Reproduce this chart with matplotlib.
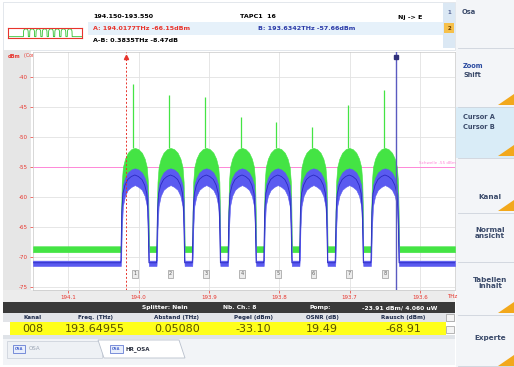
import numpy as np
import matplotlib
matplotlib.use('Agg')
import matplotlib.pyplot as plt
from matplotlib.patches import Rectangle, Polygon

# spectrum window (THz, decreasing to the right)
start_thz = 194.150
stop_thz = 193.550
cursor_a_thz = 194.0177
cursor_b_thz = 193.6342
ref_level = -55.0

# channel centres (THz) and spike height on each channel (dBm)
ch_thz = [194.0052, 193.9544, 193.9036, 193.8528, 193.8020, 193.7512, 193.7004, 193.6496]
spike_dbm = [-41.2, -43.0, -43.3, -46.7, -47.5, -48.3, -44.7, -42.2]

# half of one channel, from the gap (offset 0.0254 THz) in to the centre
hump_off = [0.0254, 0.0200, 0.0194, 0.0186, 0.0170, 0.0140, 0.0100, 0.0050, 0.0]
green_hi = [-68.2, -68.2, -62.0, -57.5, -55.0, -53.6, -52.6, -52.0, -51.8]
green_lo = [-69.2, -69.2, -67.5, -63.0, -59.5, -58.0, -57.0, -56.3, -56.0]
blue_hi = [-70.6, -70.6, -65.0, -60.5, -58.0, -56.8, -55.9, -55.4, -55.2]
blue_lo = [-71.5, -71.5, -70.0, -65.5, -61.5, -59.8, -58.8, -58.3, -58.0]

y_ticks = [-75, -70, -65, -60, -55, -50, -45, -40]
x_ticks = [194.1, 194.0, 193.9, 193.8, 193.7, 193.6]

# table row
table_cols = ['Kanal', 'Freq. (THz)', 'Abstand (THz)', 'Pegel (dBm)', 'OSNR (dB)', 'Rausch (dBm)']
table_vals = ['008', '193.64955', '0.05080', '-33.10', '19.49', '-68.91']
table_x = [33, 95, 177, 253, 322, 403]

menu_items = ['Kanal', 'Normal\nansicht', 'Tabellen\ninhalt', 'Experte']
menu_y = [197, 233, 283, 338]

W, H = 514, 367
fig = plt.figure(figsize=(W / 100, H / 100), dpi=100)
fig.patch.set_facecolor('white')

# pixel overlay for the instrument frame
ui = fig.add_axes([0, 0, 1, 1])
ui.set_xlim(0, W)
ui.set_ylim(H, 0)
ui.axis('off')

def box(x, y, w, h, fc, ec='none', lw=0.5, z=1):
    ui.add_patch(Rectangle((x, y), w, h, facecolor=fc, edgecolor=ec, lw=lw, zorder=z))

def txt(x, y, s, size=4.6, color='black', weight='bold', ha='left', **kw):
    ui.text(x, y, s, fontsize=size, color=color, fontweight=weight, ha=ha, va='center', **kw)

red = '#e8342c'
navy = '#2a3aa8'

# header
box(3, 2, 452, 48, 'white', '#d8dde4')
box(88, 22, 355, 13, '#e6f1fa')
txt(93, 17, '194.150-193.550')
txt(240, 17, 'TAPC1  16')
txt(398, 17, 'Nj -> E')
txt(93, 28, 'A: 194.0177THz -66.15dBm', color=red)
txt(258, 28, 'B: 193.6342THz -57.66dBm', color=navy)
txt(93, 40, 'A-B: 0.3835THz -8.47dB')
box(443, 3, 12, 45, '#dbe8f4')
txt(449, 12, '1', size=4, color='#5a6a9a', ha='center')
box(444, 23, 10, 10, '#f6c04a')
txt(449, 28, '2', size=4, color='#6a3a00', ha='center')

# left label strip and bottom label strip
box(3, 50, 28, 242, '#e6e6e6')
box(3, 290, 452, 12, '#ececec')
txt(8, 56, 'dBm', size=3.6, color=red)
ui.add_patch(Rectangle((6, 53), 14, 6, facecolor='#f8d8d8', edgecolor='none', zorder=0.9))
txt(24, 56, '(Cont in Power in 100MHz Bandwidth)', size=3.4, color=red, weight='normal')
txt(452, 297, 'THz', size=4, color=red, weight='normal', ha='center')

# status bar and table
box(3, 302, 452, 11, '#3a3a3a')
txt(165, 307.5, 'Splitter: Nein', size=4.3, color='white', ha='center')
txt(240, 307.5, 'Nb. Ch.: 8', size=4.3, color='white', ha='center')
txt(320, 307.5, 'Pomp:', size=4.3, color='white', ha='center')
txt(400, 307.5, '-23.91 dBm/ 4.060 uW', size=4.3, color='white', ha='center')
box(3, 313, 452, 9, '#e2e4e8')
box(10, 322, 436, 13, '#ffff1a')
box(3, 335, 452, 4, '#dfe3e8')
box(446, 314, 8, 7, '#f4f4f4', '#9a9a9a')
box(446, 326, 8, 7, '#f4f4f4', '#9a9a9a')
for name, val, x in zip(table_cols, table_vals, table_x):
    txt(x, 317.5, name, size=4.1, color='#1c2a4a', ha='center')
    txt(x, 328.5, val, size=8, color='#5a5200', weight='normal', ha='center')

# tabs
box(3, 339, 452, 26, '#f2f4f7')
box(7, 341, 95, 17, '#eef1f5', '#c8ced8')
box(13, 345, 12, 8, '#e8eefc', '#4a66cc')
txt(19, 349, 'OSA', size=2.6, color='#4a66cc', ha='center')
txt(29, 349, 'OSA', size=4, color='#9aa4b4', weight='normal')
ui.add_patch(Polygon([[98, 340], [104, 358], [185, 358], [179, 340]], closed=True,
                     facecolor='white', edgecolor='#b8c0cc', lw=0.6, zorder=1))
box(110, 345, 13, 8, '#e8eefc', '#4a66cc')
txt(116.5, 349, 'OSA', size=2.6, color='#4a66cc', ha='center')
txt(126, 349, 'HR_OSA', size=4, color='#2a3040')

# right soft-key panel
box(456, 0, 58, 367, '#f3f5f8')
box(456, 107, 58, 51, '#d9ecf7')
for yy in [48, 107, 158, 213, 262, 315, 366]:
    ui.plot([458, 514], [yy, yy], color='#cdd3dc', lw=0.6)
for yy in [105, 156, 211, 313, 366]:
    ui.add_patch(Polygon([[514, yy - 11], [514, yy], [498, yy]], closed=True,
                         facecolor='#f2a81c', edgecolor='none', zorder=2))
txt(462, 12, 'Osa', size=4.8, color='#3a4a6a')
txt(463, 66, 'Zoom', size=4.8, color='#2a4aa0')
txt(463, 75, 'Shift', size=4.8, color='#3a4a6a')
txt(463, 117, 'Cursor A', size=4.8, color='#3a4a6a')
txt(463, 127, 'Cursor B', size=4.8, color='#3a4a6a')
for s, yy in zip(menu_items, menu_y):
    txt(490, yy, s, size=5.2, color='#3a4a6a', ha='center', linespacing=1.1)

# spectrum axes
ax = fig.add_axes([33 / W, 1 - 290 / H, (455 - 33) / W, (290 - 52) / H])
ax.set_facecolor('white')
ax.set_xlim(start_thz, stop_thz)
ax.set_ylim(-75.5, -35.8)


def build(hi, lo):
    off = np.array(hump_off)
    full_off = np.concatenate([off, -off[::-1][1:]])
    hi = np.array(hi)
    lo = np.array(lo)
    hi_full = np.concatenate([hi, hi[::-1][1:]])
    lo_full = np.concatenate([lo, lo[::-1][1:]])
    xs = [start_thz]
    ys_hi = [hi[0]]
    ys_lo = [lo[0]]
    for c in ch_thz:
        xs.extend(c + full_off)
        ys_hi.extend(hi_full)
        ys_lo.extend(lo_full)
    xs.append(stop_thz)
    ys_hi.append(hi[0])
    ys_lo.append(lo[0])
    return np.array(xs), np.array(ys_hi), np.array(ys_lo)


gx, ghi, glo = build(green_hi, green_lo)
bx, bhi, blo = build(blue_hi, blue_lo)

ax.grid(True, color='#e2e2e2', lw=0.6)
ax.set_axisbelow(True)
ax.axhline(ref_level, color='#ff88d8', lw=0.7, zorder=2)
ax.text(193.575, ref_level + 0.4, 'Schwelle -55 dBm', fontsize=3, color='#ff88d8',
        ha='center', va='bottom')

ax.fill_between(gx, glo, ghi, color='#44e444', lw=0.4, zorder=3)
for c, s in zip(ch_thz, spike_dbm):
    ax.vlines(c + 0.002, green_hi[-1], s, color='#44e444', lw=0.9, zorder=3)
ax.fill_between(bx, blo, bhi, color='#5a5af0', lw=0.4, zorder=4)
ax.plot(bx, (bhi * 0.6 + blo * 0.4), color='#2a2ac0', lw=0.6, zorder=4)

ax.axvline(cursor_a_thz, color=red, lw=0.7, ls=(0, (2, 2)), zorder=5)
ax.axvline(cursor_b_thz, color='#5a5ac0', lw=1.0, zorder=5)
ax.plot([cursor_a_thz], [-36.6], marker='^', ms=3, color=red, zorder=6, clip_on=False)
ax.plot([cursor_b_thz], [-36.6], marker='s', ms=3, color='#30307a', zorder=6, clip_on=False)

# channel number boxes
for i, c in enumerate(ch_thz):
    ax.text(c, -72.8, str(i + 1), fontsize=3.6, color='#606060', ha='center', va='center',
            bbox=dict(boxstyle='square,pad=0.25', fc='#ececec', ec='#9a9a9a', lw=0.5), zorder=6)

ax.set_yticks(y_ticks)
ax.set_yticklabels([str(v) for v in y_ticks])
ax.set_xticks(x_ticks)
ax.set_xticklabels(['%.1f' % v for v in x_ticks])
ax.tick_params(axis='both', colors=red, labelsize=4, length=2, width=0.5, pad=1.5)
for sp in ax.spines.values():
    sp.set_color('#c8c8c8')
    sp.set_linewidth(0.5)

# thumbnail of the whole trace
th = fig.add_axes([8 / W, 1 - 38 / H, 74 / W, 10 / H])
th.set_xlim(start_thz, stop_thz)
th.set_ylim(-71, -50)
th.plot(gx, ghi, color='#30c030', lw=0.6)
th.set_xticks([])
th.set_yticks([])
for sp in th.spines.values():
    sp.set_color(red)
    sp.set_linewidth(0.8)

fig.savefig('out.png', dpi=100)
